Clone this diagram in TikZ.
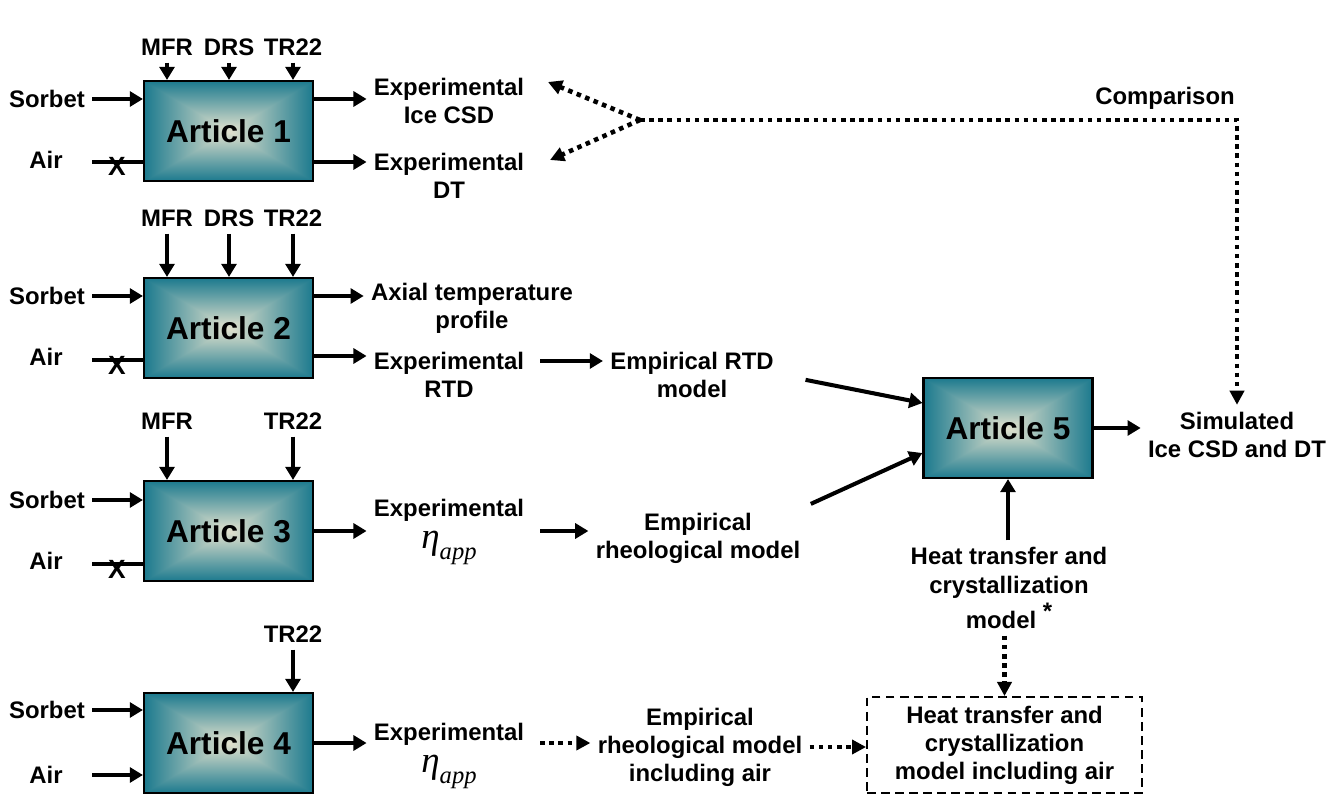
\documentclass[tikz,border=0pt]{standalone}
\usepackage{fontspec}
\setmainfont{Liberation Sans}
\newfontfamily\seriffont{Liberation Serif}
\usetikzlibrary{arrows.meta}
\pgfdeclarefunctionalshading{cajaart}{\pgfpoint{0bp}{0bp}}{\pgfpoint{100bp}{100bp}}{}{
    50 sub abs 25 div exch 50 sub abs 25 div
    2 copy lt {exch} if pop
    dup 1 gt {pop 1} if
    dup -0.776 mul 0.886 add
    exch
    dup -0.408 mul 0.886 add
    exch
    -0.251 mul 0.808 add
}
\newcommand{\etaapp}{{\seriffont\mdseries\itshape\fontsize{21}{21}\selectfont η\raisebox{-0.3em}{\fontsize{14}{14}\selectfont app}}}

\begin{document}
\begin{tikzpicture}[x=0.02cm,y=-0.02cm,
    txt/.style={font=\fontsize{13.6}{16}\selectfont\bfseries,align=center,inner sep=4pt},
    corte/.style={font=\fontsize{15}{15}\selectfont\bfseries,inner sep=0pt},
    articulo/.style={draw=black,line width=1.2pt,shading=cajaart,
        minimum width=3.38cm,minimum height=2cm,
        font=\fontsize{18}{20}\selectfont\bfseries},
    trazos/.style={draw=black,line width=1.1pt,dash pattern=on 5pt off 3pt,
        minimum width=5.5cm,minimum height=1.92cm},
    flecha/.style={-{Triangle[length=7.5pt,width=8.5pt]},line width=2.3pt},
    linea/.style={line width=2.3pt},
    punteada/.style={-{Triangle[length=8pt,width=8pt]},line width=2.6pt,dash pattern=on 2.6pt off 2.6pt}]

    \useasboundingbox (0,0) rectangle (1342,807);

    % Artículo 1
    \node[articulo] (art1) at (228.5,131) {Article 1};
    \node[txt] (mfr1) at (167,47) {MFR};
    \node[txt] (drs1) at (229,47) {DRS};
    \node[txt] (tr1) at (293,47) {TR22};
    \node[txt] (sorbet1) at (47,99) {Sorbet};
    \node[txt] (air1) at (46,160) {Air};
    \node[txt] (ice1) at (449,101) {Experimental\\Ice CSD};
    \node[txt] (dt1) at (449,176) {Experimental\\DT};
    \draw[flecha] (mfr1) -- (mfr1 |- art1.north);
    \draw[flecha] (drs1) -- (drs1 |- art1.north);
    \draw[flecha] (tr1) -- (tr1 |- art1.north);
    \draw[flecha] (sorbet1) -- (sorbet1 -| art1.west);
    \draw[linea] (sorbet1.east |- 0,162) -- (art1.west |- 0,162);
    \node[corte] (x1) at (117,166) {X};
    \draw[flecha] (art1.east |- sorbet1) -- (sorbet1 -| ice1.west);
    \draw[flecha] (art1.east |- 0,162) -- (dt1.west |- 0,162);

    % Comparación
    \coordinate (cruce) at (640,120);
    \coordinate (puntaA) at (548,82);
    \coordinate (puntaB) at (550,160);
    \node[txt] (cmp) at (1165,98) {Comparison};
    \draw[punteada] (cruce) -- (puntaA);
    \draw[punteada] (cruce) -- (puntaB);

    % Artículo 2
    \node[articulo] (art2) at (228.5,328) {Article 2};
    \node[txt] (mfr2) at (167,218) {MFR};
    \node[txt] (drs2) at (229,218) {DRS};
    \node[txt] (tr2) at (293,218) {TR22};
    \node[txt] (sorbet2) at (47,296) {Sorbet};
    \node[txt] (air2) at (46,357) {Air};
    \node[txt] (axial2) at (472,308) {Axial temperature\\profile};
    \node[txt] (rtd2) at (449,375) {Experimental\\RTD};
    \node[txt] (rtdmod) at (692,375) {Empirical RTD\\model};
    \draw[flecha] (mfr2) -- (mfr2 |- art2.north);
    \draw[flecha] (drs2) -- (drs2 |- art2.north);
    \draw[flecha] (tr2) -- (tr2 |- art2.north);
    \draw[flecha] (sorbet2) -- (sorbet2 -| art2.west);
    \draw[linea] (sorbet2.east |- 0,360) -- (art2.west |- 0,360);
    \node[corte] (x2) at (117,365) {X};
    \draw[flecha] (art2.east |- sorbet2) -- (sorbet2 -| axial2.west);
    \draw[flecha] (art2.east |- 0,356) -- (rtd2.west |- 0,356);
    \draw[flecha,shorten <=5pt] ([yshift=0.28cm]rtd2.east) -- ([yshift=0.28cm]rtd2.east -| rtdmod.west);

    % Artículo 3
    \node[articulo] (art3) at (228.5,531) {Article 3};
    \node[txt] (mfr3) at (167,421) {MFR};
    \node[txt] (tr3) at (293,421) {TR22};
    \node[txt] (sorbet3) at (47,500) {Sorbet};
    \node[txt] (air3) at (46,561) {Air};
    \node[txt] (eta3) at (449,532) {Experimental\\[2pt]\etaapp};
    \node[txt] (rheo) at (698,538) {Empirical\\rheological model};
    \draw[flecha] (mfr3) -- (mfr3 |- art3.north);
    \draw[flecha] (tr3) -- (tr3 |- art3.north);
    \draw[flecha] (sorbet3) -- (sorbet3 -| art3.west);
    \draw[linea] (sorbet3.east |- 0,564) -- (art3.west |- 0,564);
    \node[corte] (x3) at (117,569) {X};
    \draw[flecha] (art3.east) -- (art3.east -| eta3.west);
    \draw[flecha,shorten <=5pt] (art3.east -| eta3.east) -- (art3.east -| rheo.west);

    % Artículo 4
    \node[articulo] (art4) at (228.5,743) {Article 4};
    \node[txt] (tr4) at (293,634) {TR22};
    \node[txt] (sorbet4) at (47,710) {Sorbet};
    \node[txt] (air4) at (46,775) {Air};
    \node[txt] (eta4) at (449,756) {Experimental\\[2pt]\etaapp};
    \node[txt] (rheoair) at (700,747) {Empirical\\rheological model\\including air};
    \draw[flecha] (tr4) -- (tr4 |- art4.north);
    \draw[flecha] (sorbet4) -- (sorbet4 -| art4.west);
    \draw[flecha] (sorbet4.east |- air4) -- (air4 -| art4.west);
    \draw[flecha] (art4.east) -- (art4.east -| eta4.west);
    \draw[punteada,shorten <=5pt] (art4.east -| eta4.east) -- (art4.east -| rheoair.west);

    % Artículo 5
    \node[articulo] (art5) at (1008,428) {Article 5};
    \node[txt] (sim) at (1237,435) {Simulated\\Ice CSD and DT};
    \node[txt] (heat) at (1009,588) {Heat transfer and\\crystallization\\[2pt]model \raisebox{0.35em}{*}};
    \node[trazos,txt] (heatair) at (1004.5,745) {Heat transfer and\\crystallization\\model including air};
    \draw[flecha,shorten <=0.5cm] (rtdmod.east) -- ([yshift=0.5cm]art5.west);
    \draw[flecha,shorten <=2pt] (rheo.north east) -- ([yshift=-0.5cm]art5.west);
    \draw[flecha] (heat.north -| art5.south) -- (art5.south);
    \draw[flecha] (art5.east) -- (art5.east -| sim.west);
    \draw[punteada] (heat.south -| heatair.north) -- (heatair.north);
    \draw[punteada] (rheoair.east) -- (rheoair.east -| heatair.west);
    \draw[punteada] (cruce) -| (sim.north);
\end{tikzpicture}
\end{document}
